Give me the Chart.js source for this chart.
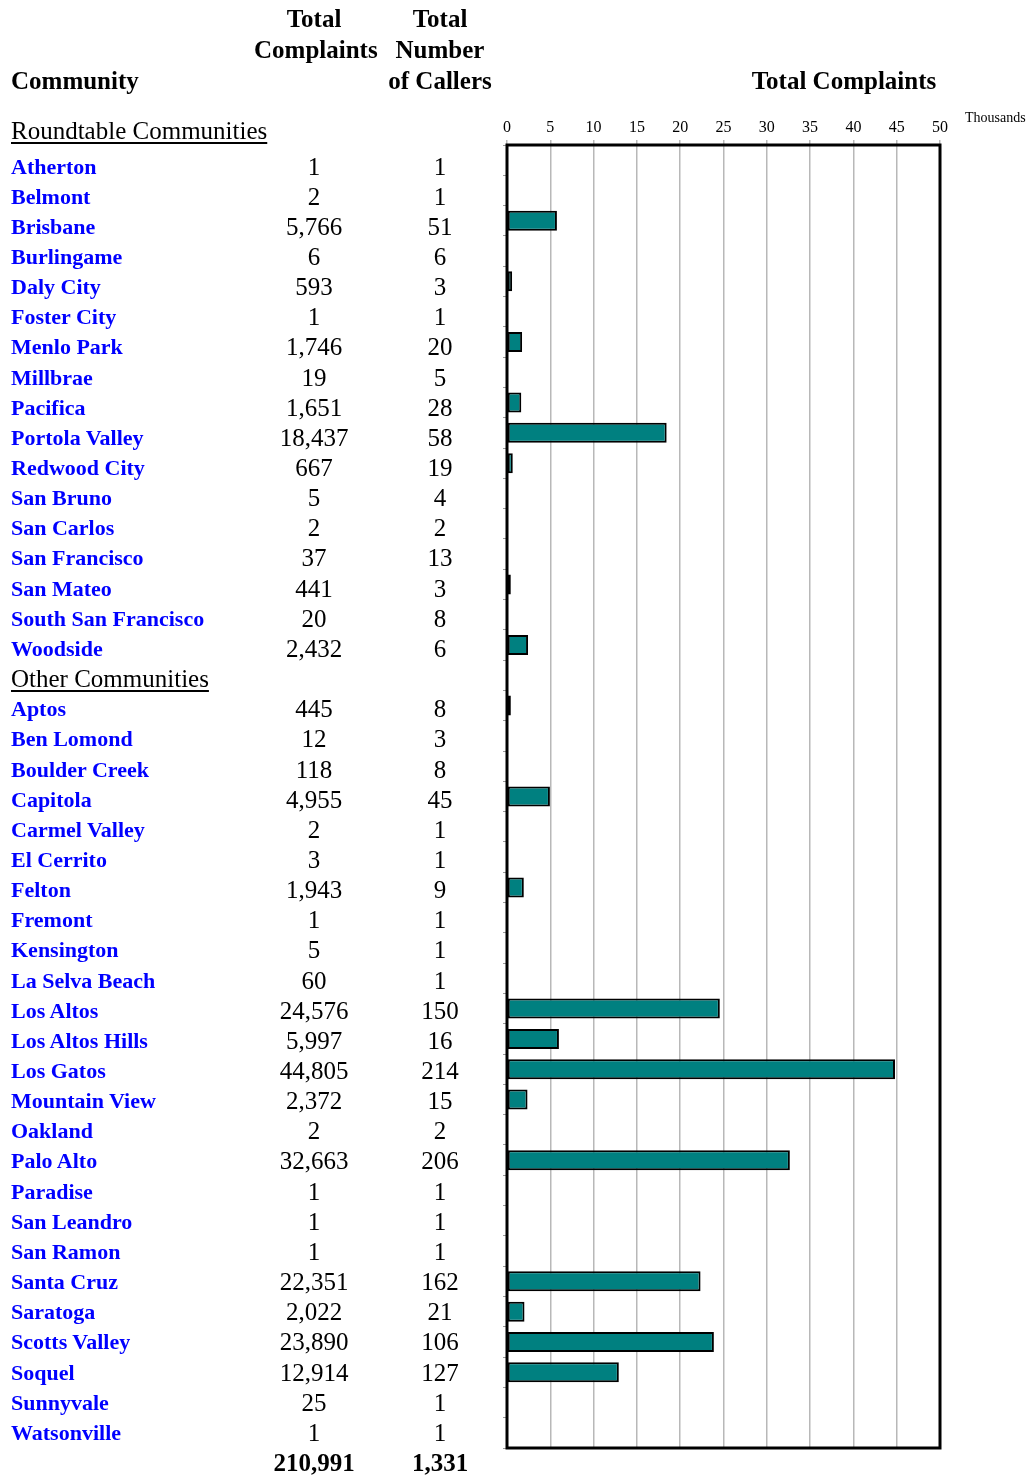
<!DOCTYPE html>
<html>
<head>
<meta charset="utf-8">
<script src="https://cdn.jsdelivr.net/npm/chart.js@4"></script>
<style>
  body { margin: 0; background: #fff; }
  #page { position: relative; width: 1031px; height: 1475px; font-family: 'Liberation Serif', 'Times New Roman', serif; color: #000; overflow: hidden; }
  #c { position: absolute; left: 0; top: 0; }
  .abs { position: absolute; white-space: nowrap; }
  .hdr { font-weight: bold; font-size: 25px; line-height: 31px; text-align: center; }
  .sect { font-size: 25px; text-decoration: underline; text-decoration-thickness: 2px; text-underline-offset: 3px; }
  .name { font-weight: bold; font-size: 22px; color: #0000ff; }
  .num { font-size: 25px; text-align: center; width: 120px; }
  .tot { font-weight: bold; }
</style>
</head>
<body>
<div id="page">
  <canvas id="c" width="1031" height="1475" style="width:1031px;height:1475px"></canvas>
  <div class="abs hdr" style="left:11px;top:65px;text-align:left">Community</div>
  <div class="abs hdr" style="left:254px;top:3px;width:120px">Total<br>Complaints</div>
  <div class="abs hdr" style="left:380px;top:3px;width:120px">Total<br>Number<br>of Callers</div>
  <div class="abs hdr" style="left:744px;top:65px;width:200px">Total Complaints</div>
  <div class="abs" style="left:965px;top:110px;font-size:14px">Thousands</div>
  <div class="abs sect" style="left:11px;top:116px;line-height:30px">Roundtable Communities</div>
  <div id="rows"></div>
</div>
<script>
const roundtable = ['Atherton', 'Belmont', 'Brisbane', 'Burlingame', 'Daly City', 'Foster City', 'Menlo Park', 'Millbrae', 'Pacifica', 'Portola Valley', 'Redwood City', 'San Bruno', 'San Carlos', 'San Francisco', 'San Mateo', 'South San Francisco', 'Woodside'];
const roundtableComplaints = [1, 2, 5766, 6, 593, 1, 1746, 19, 1651, 18437, 667, 5, 2, 37, 441, 20, 2432];
const roundtableCallers = [1, 1, 51, 6, 3, 1, 20, 5, 28, 58, 19, 4, 2, 13, 3, 8, 6];

const others = ['Aptos', 'Ben Lomond', 'Boulder Creek', 'Capitola', 'Carmel Valley', 'El Cerrito', 'Felton', 'Fremont', 'Kensington', 'La Selva Beach', 'Los Altos', 'Los Altos Hills', 'Los Gatos', 'Mountain View', 'Oakland', 'Palo Alto', 'Paradise', 'San Leandro', 'San Ramon', 'Santa Cruz', 'Saratoga', 'Scotts Valley', 'Soquel', 'Sunnyvale', 'Watsonville'];
const otherComplaints = [445, 12, 118, 4955, 2, 3, 1943, 1, 5, 60, 24576, 5997, 44805, 2372, 2, 32663, 1, 1, 1, 22351, 2022, 23890, 12914, 25, 1];
const otherCallers = [8, 3, 8, 45, 1, 1, 9, 1, 1, 1, 150, 16, 214, 15, 2, 206, 1, 1, 1, 162, 21, 106, 127, 1, 1];

const otherHeading = 'Other Communities';
const totalComplaints = 210991;
const totalCallers = 1331;
const xMax = 50, xStep = 5;  // thousands

// one category per table row, the "Other Communities" heading row has no bar
const labels = [...roundtable, otherHeading, ...others];
const complaints = [...roundtableComplaints, null, ...otherComplaints];
const callers = [...roundtableCallers, null, ...otherCallers];
const barValues = complaints.map(v => v == null ? null : v / 1000);

const fmt = n => n.toLocaleString('en-US');

// text table runs on its own (slightly tighter) row grid, like the sheet it came from
const textFirstRow = 166.5, textPitch = 30.15, textRowH = 30;

function buildTable() {
    const box = document.getElementById('rows');
    const add = (cls, text, left, cy) => {
        const d = document.createElement('div');
        d.className = 'abs ' + cls;
        d.textContent = text;
        d.style.left = left + 'px';
        d.style.top = (cy - textRowH / 2) + 'px';
        d.style.height = textRowH + 'px';
        d.style.lineHeight = textRowH + 'px';
        box.appendChild(d);
    };
    labels.forEach((lab, i) => {
        const cy = textFirstRow + i * textPitch;
        if (complaints[i] == null) {
            add('sect', lab, 11, cy);
            return;
        }
        add('name', lab, 11, cy);
        add('num', fmt(complaints[i]), 254, cy);
        add('num', fmt(callers[i]), 380, cy);
    });
    const cyTot = textFirstRow + labels.length * textPitch;
    add('num tot', fmt(totalComplaints), 254, cyTot);
    add('num tot', fmt(totalCallers), 380, cyTot);
}

const frame = {
    id: 'frame',
    afterDraw(chart) {
        const { ctx, chartArea: a } = chart;
        ctx.save();
        ctx.strokeStyle = '#000';
        ctx.lineWidth = 3;
        ctx.strokeRect(a.left, a.top, a.right - a.left, a.bottom - a.top);
        ctx.restore();
    }
};

new Chart(document.getElementById('c'), {
    type: 'bar',
    data: {
        labels,
        datasets: [{
            label: 'Total Complaints',
            data: barValues,
            backgroundColor: '#008080',
            borderColor: '#000',
            borderWidth: 2,
            borderSkipped: false,
            barPercentage: 0.66,
            categoryPercentage: 1
        }]
    },
    options: {
        indexAxis: 'y',
        responsive: false,
        animation: false,
        events: [],
        layout: { padding: { left: 490, right: 91, top: 115, bottom: 27 } },
        plugins: { legend: { display: false }, tooltip: { enabled: false } },
        scales: {
            x: {
                position: 'top',
                min: 0,
                max: xMax,
                afterFit: s => { s.height = 30; },
                ticks: { stepSize: xStep, padding: 3, color: '#000', font: { family: 'Liberation Serif', size: 16 } },
                grid: { color: '#b8b8b8', lineWidth: 1.5, tickLength: 5 },
                border: { display: false }
            },
            y: {
                afterFit: s => { s.width = 17; },
                ticks: { display: false },
                grid: { offset: true, drawOnChartArea: false, color: '#9a9a9a', tickLength: 4 },
                border: { display: false }
            }
        }
    },
    plugins: [frame]
});

buildTable();
</script>
</body>
</html>
